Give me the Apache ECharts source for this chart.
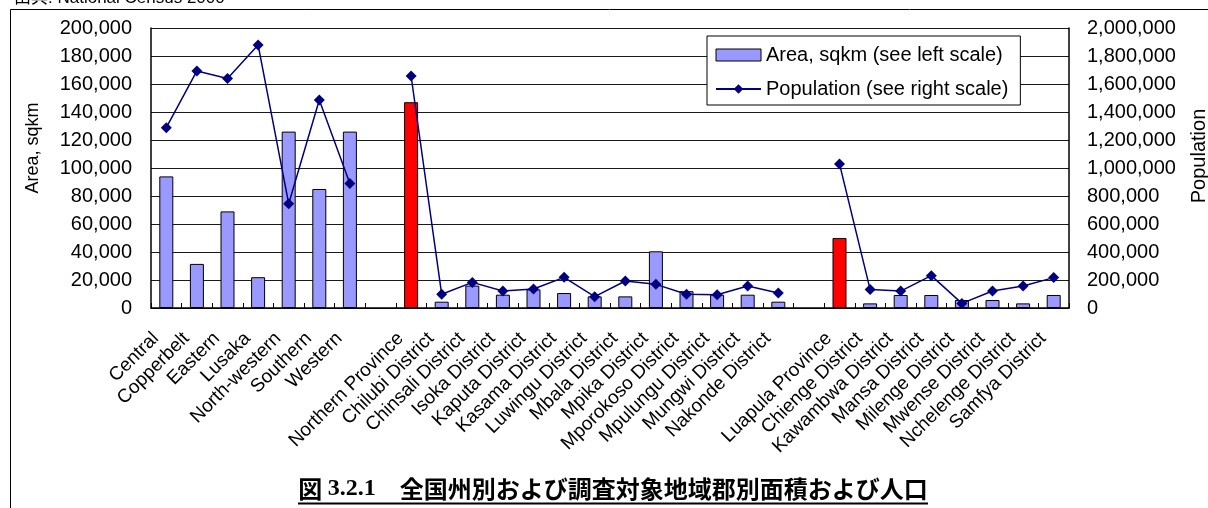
<!DOCTYPE html>
<html>
<head>
<meta charset="utf-8">
<title>全国州別および調査対象地域郡別面積および人口</title>
<script src="https://cdn.jsdelivr.net/npm/echarts@6/dist/echarts.min.js"></script>
<style>
  html, body { margin: 0; padding: 0; background: #ffffff; }
  #chart { width: 1208px; height: 508px; }
</style>
</head>
<body>
<div id="chart"></div>
<script>
// Provinces, then Northern Province with its districts, then Luapula Province with its districts.
// Empty names are spacer slots between the groups.
const categories = [
  'Central', 'Copperbelt', 'Eastern', 'Lusaka', 'North-western', 'Southern', 'Western',
  '',
  'Northern Province', 'Chilubi District', 'Chinsali District', 'Isoka District',
  'Kaputa District', 'Kasama District', 'Luwingu District', 'Mbala District',
  'Mpika District', 'Mporokoso District', 'Mpulungu District', 'Mungwi District',
  'Nakonde District',
  ' ',
  'Luapula Province', 'Chienge District', 'Kawambwa District', 'Mansa District',
  'Milenge District', 'Mwense District', 'Nchelenge District', 'Samfya District'
];

// Area in square kilometres (left scale)
const areaSqkm = [
  94000, 31500, 69000, 22000, 126000, 85000, 126000,
  null,
  147000, 4500, 16000, 9500, 13300, 10700, 8300, 8300, 40500, 12000, 9500, 9500, 4500,
  null,
  50000, 3300, 9300, 9300, 5700, 5700, 3300, 9300
];

// Population (right scale)
const population = [
  1288000, 1693000, 1640000, 1879000, 745000, 1486000, 890000,
  null,
  1657000, 98000, 183000, 121000, 136000, 219000, 81000, 193000, 169000, 98000, 95000, 157000, 107000,
  null,
  1029000, 133000, 121000, 231000, 33000, 121000, 157000, 217000
];

// Province totals that are shown in red among their districts
const provinceTotals = ['Northern Province', 'Luapula Province'];

const areaTicks = { min: 0, max: 200000, interval: 20000 };
const popTicks = { min: 0, max: 2000000, interval: 200000 };

const areaName = 'Area, sqkm';
const popName = 'Population';
const areaLegend = 'Area, sqkm (see left scale)';
const popLegend = 'Population (see right scale)';
const sourceNote = '出典: National Census 2000';
const figNo = '3.2.1';
const figTitle = '全国州別および調査対象地域郡別面積および人口';

const FONT = '"Liberation Sans", Arial, sans-serif';
const fmt = v => v.toLocaleString('en-US');

const barData = areaSqkm.map((v, i) => {
  if (provinceTotals.includes(categories[i])) {
    return { value: v, itemStyle: { color: '#ff0000' } };
  }
  return v;
});

const chart = echarts.init(document.getElementById('chart'), null, { renderer: 'canvas' });

chart.setOption({
  animation: false,
  backgroundColor: '#ffffff',
  textStyle: { fontFamily: FONT, color: '#000' },
  grid: { left: 151, right: 139, top: 28, bottom: 200, containLabel: false },
  legend: {
    orient: 'vertical',
    left: 707,
    top: 36,
    padding: [7, 12, 4, 8],
    itemGap: 10,
    itemWidth: 45,
    itemHeight: 12,
    backgroundColor: '#fff',
    borderColor: '#000',
    borderWidth: 1,
    textStyle: { fontFamily: FONT, fontSize: 20, color: '#000', lineHeight: 24 },
    data: [
      { name: areaLegend, icon: 'rect', itemStyle: { color: '#9999ff', borderColor: '#000', borderWidth: 1 } },
      { name: popLegend }
    ]
  },
  xAxis: {
    type: 'category',
    data: categories,
    boundaryGap: true,
    axisLine: { lineStyle: { color: '#000', width: 1.5 } },
    axisTick: { show: true, inside: true, length: 5, lineStyle: { color: '#000' } },
    axisLabel: {
      interval: 0,
      rotate: 45,
      margin: 17,
      padding: [0, 15, 0, 0],
      fontSize: 19,
      fontFamily: FONT,
      color: '#000'
    },
    splitLine: { show: false }
  },
  yAxis: [
    {
      type: 'value',
      position: 'left',
      min: areaTicks.min, max: areaTicks.max, interval: areaTicks.interval,
      axisLine: { show: true, lineStyle: { color: '#000', width: 1.5 } },
      axisTick: { show: false },
      axisLabel: { margin: 19, fontSize: 20, fontFamily: FONT, color: '#000', formatter: fmt },
      splitLine: { show: true, lineStyle: { color: '#1a1a1a', width: 1 } }
    },
    {
      type: 'value',
      position: 'right',
      min: popTicks.min, max: popTicks.max, interval: popTicks.interval,
      axisLine: { show: true, lineStyle: { color: '#000', width: 1.5 } },
      axisTick: { show: false },
      axisLabel: { margin: 18, fontSize: 20, fontFamily: FONT, color: '#000', formatter: fmt },
      splitLine: { show: false }
    }
  ],
  series: [
    {
      name: areaLegend,
      type: 'bar',
      yAxisIndex: 0,
      data: barData,
      barWidth: 14,
      itemStyle: { color: '#9999ff', borderColor: '#000', borderWidth: 1 },
      z: 2
    },
    {
      name: popLegend,
      type: 'line',
      yAxisIndex: 1,
      data: population,
      connectNulls: false,
      symbol: 'diamond',
      symbolSize: 11,
      lineStyle: { color: '#000080', width: 1.5 },
      itemStyle: { color: '#000080', borderWidth: 0 },
      z: 3
    }
  ],
  graphic: [
    {
      type: 'rect',
      silent: true,
      z: -1,
      shape: { x: 10.5, y: 9.5, width: 1400, height: 700 },
      style: { fill: 'none', stroke: '#000', lineWidth: 1 }
    },
    {
      type: 'text',
      silent: true,
      x: 14, y: 7,
      style: { text: sourceNote, font: '17px "Liberation Sans", "Noto Sans CJK JP", sans-serif', fill: '#000', verticalAlign: 'bottom' }
    },
    {
      type: 'text',
      silent: true,
      x: 33, y: 148,
      rotation: Math.PI / 2,
      style: { text: areaName, font: '18px ' + FONT, fill: '#000', align: 'center', verticalAlign: 'middle' }
    },
    {
      type: 'text',
      silent: true,
      x: 1199, y: 156,
      rotation: Math.PI / 2,
      style: { text: popName, font: '20px ' + FONT, fill: '#000', align: 'center', verticalAlign: 'middle' }
    },
    {
      type: 'text',
      silent: true,
      x: 613, y: 489,
      style: {
        text: '{cj|図 }{num|' + figNo + '}{cj|　' + figTitle + '}',
        align: 'center',
        verticalAlign: 'middle',
        fill: '#000',
        rich: {
          cj: { fontFamily: '"Noto Sans CJK JP", sans-serif', fontWeight: 'bold', fontSize: 24, fill: '#000' },
          num: { fontFamily: '"Liberation Serif", serif', fontWeight: 'bold', fontSize: 24, fill: '#000' }
        }
      }
    },
    {
      type: 'line',
      silent: true,
      shape: { x1: 298, y1: 503.5, x2: 928, y2: 503.5 },
      style: { stroke: '#000', lineWidth: 2 }
    }
  ]
});
</script>
</body>
</html>
